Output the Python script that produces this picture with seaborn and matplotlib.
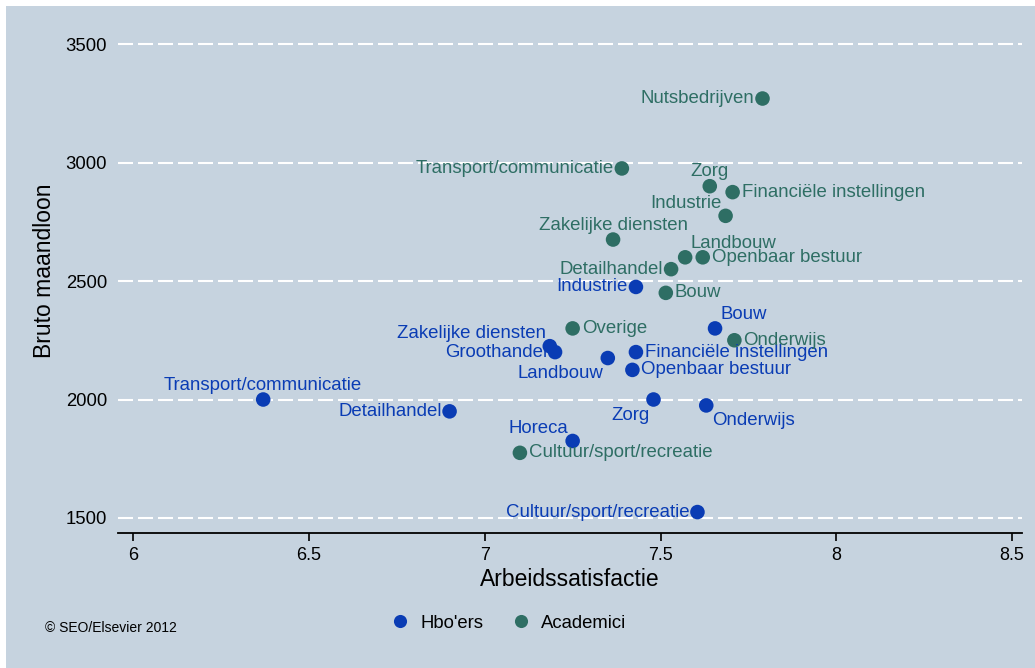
"""
Arbeidssatisfactie vs bruto maandloon per sector (hbo'ers en academici)
"""
import pandas as pd
import matplotlib.pyplot as plt
import seaborn as sns
from matplotlib.patches import Rectangle

hbo_sectors = ["Transport/communicatie", "Detailhandel", "Zakelijke diensten", "Groothandel",
               "Landbouw", "Industrie", "Financiële instellingen", "Openbaar bestuur",
               "Zorg", "Onderwijs", "Bouw", "Horeca", "Cultuur/sport/recreatie"]
hbo_satisfaction = [6.37, 6.90, 7.185, 7.20, 7.35, 7.43, 7.43, 7.42, 7.48, 7.63, 7.655, 7.25, 7.605]
hbo_wage = [2000, 1950, 2225, 2200, 2175, 2475, 2200, 2125, 2000, 1975, 2300, 1825, 1525]

aca_sectors = ["Nutsbedrijven", "Transport/communicatie", "Zorg", "Financiële instellingen",
               "Industrie", "Zakelijke diensten", "Landbouw", "Openbaar bestuur",
               "Detailhandel", "Bouw", "Overige", "Onderwijs", "Cultuur/sport/recreatie"]
aca_satisfaction = [7.79, 7.39, 7.64, 7.705, 7.685, 7.365, 7.57, 7.62, 7.53, 7.515, 7.25, 7.71, 7.10]
aca_wage = [3270, 2975, 2900, 2875, 2775, 2675, 2600, 2600, 2550, 2450, 2300, 2250, 1775]

groups = ["Hbo'ers", "Academici"]
y_ticks = [1500, 2000, 2500, 3000, 3500]
x_ticks = [6, 6.5, 7, 7.5, 8, 8.5]
x_ticklabels = ["6", "6.5", "7", "7.5", "8", "8.5"]

# label placement as clock positions
hbo_clock = [12, 9, 11, 9, 7, 9, 3, 3, 7, 5, 1, 11, 9]
aca_clock = [9, 9, 12, 3, 11, 12, 1, 3, 9, 3, 3, 3, 3]

clock_style = {
    9: ((-8, 0), "right", "center"),
    3: ((9, 0), "left", "center"),
    12: ((0, 6), "center", "bottom"),
    11: ((-4, 4), "right", "bottom"),
    1: ((5, 5), "left", "bottom"),
    7: ((-4, -7), "right", "top"),
    5: ((6, -7), "left", "top"),
}

BLUE = "#0a3cb4"
GREEN = "#2e6e64"
BG = "#c6d3df"

df = pd.concat([
    pd.DataFrame({"sector": hbo_sectors, "sat": hbo_satisfaction, "loon": hbo_wage,
                  "groep": groups[0], "clock": hbo_clock}),
    pd.DataFrame({"sector": aca_sectors, "sat": aca_satisfaction, "loon": aca_wage,
                  "groep": groups[1], "clock": aca_clock}),
], ignore_index=True)

sns.set_style("white")
plt.rcParams["font.family"] = ["Liberation Sans", "DejaVu Sans"]
plt.rcParams["lines.scale_dashes"] = False
plt.rcParams["text.color"] = "black"
plt.rcParams["axes.labelcolor"] = "black"
plt.rcParams["xtick.color"] = "black"
plt.rcParams["ytick.color"] = "black"

fig = plt.figure(figsize=(10.35, 6.68), dpi=100, facecolor="white")
fig.patches.append(Rectangle((6 / 1035, 0), 1, 1 - 6 / 668, transform=fig.transFigure,
                             facecolor=BG, edgecolor="none", zorder=-10))
ax = fig.add_axes([118 / 1035, 135 / 668, 904 / 1035, 525 / 668])
ax.patch.set_alpha(0)

palette = {groups[0]: BLUE, groups[1]: GREEN}
sns.scatterplot(data=df, x="sat", y="loon", hue="groep", palette=palette, s=110,
                edgecolor="none", ax=ax, zorder=3)

for _, row in df.iterrows():
    offset, ha, va = clock_style[row["clock"]]
    ax.annotate(row["sector"], (row["sat"], row["loon"]), xytext=offset,
                textcoords="offset pixels", ha=ha, va=va, fontsize=13.4,
                color=palette[row["groep"]], zorder=4)

ax.set_xlim(5.957, 8.528)
ax.set_ylim(1436.7, 3652)
ax.set_xticks(x_ticks)
ax.set_xticklabels(x_ticklabels)
ax.set_yticks(y_ticks)
ax.tick_params(axis="x", length=6, width=1.2, color="black", pad=4, labelsize=13, direction="out",
               bottom=True, labelcolor="black")
ax.tick_params(axis="y", length=0, pad=8, labelsize=13.3, labelcolor="black")

for side in ["top", "right", "left"]:
    ax.spines[side].set_visible(False)
ax.spines["bottom"].set_color("black")
ax.spines["bottom"].set_linewidth(1.3)

ax.yaxis.grid(True, color="white", linewidth=1.5, linestyle=(0, (10.8, 3.6)))
ax.set_axisbelow(True)

ax.set_xlabel("Arbeidssatisfactie", fontsize=16.5, labelpad=3, color="black")
ax.set_ylabel("Bruto maandloon", fontsize=16.5, labelpad=7, color="black")

sns.move_legend(ax, "center", bbox_to_anchor=(0.487, 1 - 623 / 668),
                bbox_transform=fig.transFigure, ncol=2, frameon=False, title=None,
                fontsize=13.3, handletextpad=0.1, columnspacing=1.0, markerscale=0.9)

fig.text(45 / 1035, 1 - 628 / 668, "© SEO/Elsevier 2012", fontsize=10, va="center", ha="left")

fig.savefig("out.png", dpi=100, facecolor=fig.get_facecolor())
